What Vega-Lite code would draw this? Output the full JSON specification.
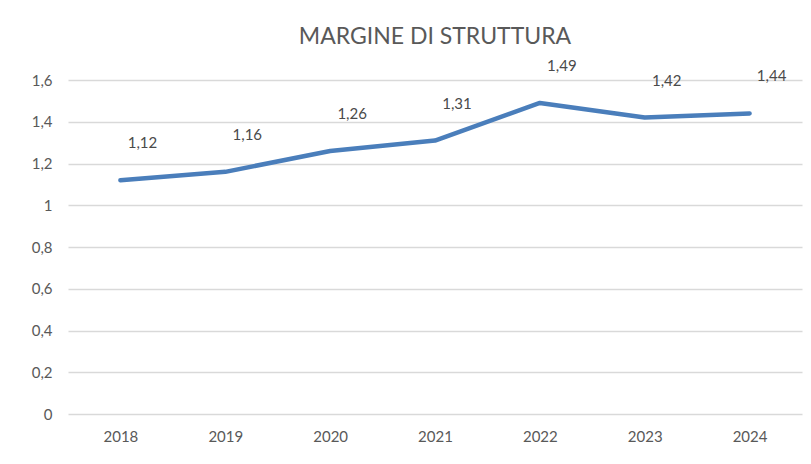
{
  "$schema": "https://vega.github.io/schema/vega-lite/v6.json",
  "width": 734,
  "height": 334,
  "autosize": {"type": "none"},
  "padding": {"left": 68, "top": 80, "right": 9, "bottom": 50},
  "background": "white",
  "title": {
    "text": "MARGINE DI STRUTTURA",
    "font": "Lato",
    "fontSize": 23,
    "fontWeight": "normal",
    "color": "#595959",
    "anchor": "middle",
    "offset": 10
  },
  "config": {
    "locale": {"number": {"decimal": ",", "thousands": ".", "grouping": [3], "currency": ["€", ""]}},
    "view": {"stroke": null},
    "font": "Lato"
  },
  "data": {
    "values": [
      {"anno": "2018", "valore": 1.12},
      {"anno": "2019", "valore": 1.16},
      {"anno": "2020", "valore": 1.26},
      {"anno": "2021", "valore": 1.31},
      {"anno": "2022", "valore": 1.49},
      {"anno": "2023", "valore": 1.42},
      {"anno": "2024", "valore": 1.44}
    ]
  },
  "encoding": {
    "x": {
      "field": "anno",
      "type": "ordinal",
      "scale": {"type": "point", "padding": 0.5},
      "axis": {
        "title": null,
        "labelAngle": 0,
        "domain": false,
        "ticks": false,
        "labelFontSize": 15,
        "labelColor": "#595959",
        "labelPadding": 15,
        "labelFont": "Lato"
      }
    },
    "y": {
      "field": "valore",
      "type": "quantitative",
      "scale": {"domain": [0, 1.6]},
      "axis": {
        "title": null,
        "values": [0, 0.2, 0.4, 0.6, 0.8, 1, 1.2, 1.4, 1.6],
        "format": ".1~f",
        "domain": false,
        "ticks": false,
        "gridColor": "#d9d9d9",
        "gridWidth": 1.3,
        "labelFontSize": 15,
        "labelColor": "#595959",
        "labelPadding": 16,
        "labelFont": "Lato"
      }
    }
  },
  "layer": [
    {
      "mark": {"type": "line", "color": "#4a7ebb", "strokeWidth": 4.5, "strokeCap": "round", "strokeJoin": "round"}
    },
    {
      "mark": {"type": "text", "dx": 22, "dy": -37, "fontSize": 15, "color": "#4a4a4a", "font": "Lato"},
      "encoding": {"text": {"field": "valore", "type": "quantitative", "format": ".2f"}}
    }
  ]
}
